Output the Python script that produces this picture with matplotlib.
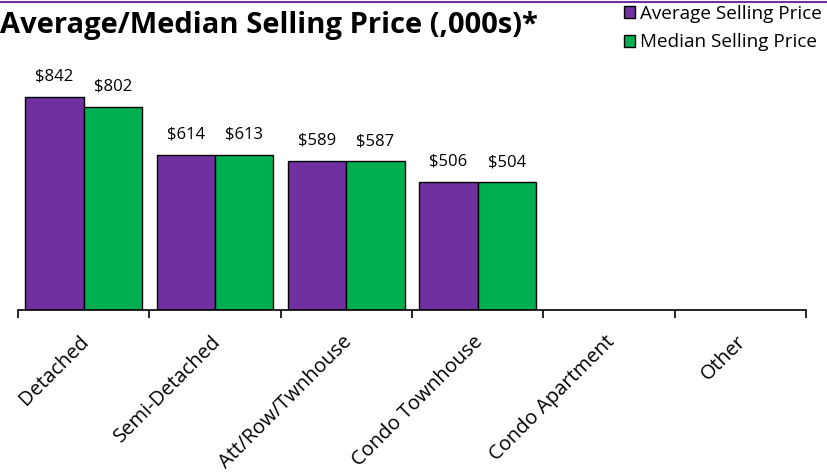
import numpy as np
import matplotlib.pyplot as plt
from matplotlib.lines import Line2D
from matplotlib.patches import Patch

plt.rcParams['font.family'] = ['Open Sans', 'DejaVu Sans']

categories = ['Detached', 'Semi-Detached', 'Att/Row/Twnhouse',
              'Condo Townhouse', 'Condo Apartment', 'Other']
avg_price = [842, 614, 589, 506, np.nan, np.nan]
med_price = [802, 613, 587, 504, np.nan, np.nan]
series_names = ['Average Selling Price', 'Median Selling Price']
purple = '#7030A0'
green = '#00B050'

fig = plt.figure(figsize=(8.27, 4.76), dpi=100)
ax = fig.add_axes([18/827, 1 - 310/476, 788/827, 260/476])

x = np.arange(len(categories))
w = 0.445
b1 = ax.bar(x - w/2, avg_price, w, color=purple, edgecolor='black', lw=1)
b2 = ax.bar(x + w/2, med_price, w, color=green, edgecolor='black', lw=1)

# value labels above bars
for bars, vals in [(b1, avg_price), (b2, med_price)]:
    for r, v in zip(bars, vals):
        if np.isnan(v):
            continue
        ax.text(r.get_x() + r.get_width()/2, v + 80, f'${v:.0f}',
                ha='center', va='center', fontsize=12)

ax.set_xlim(-0.5, len(categories) - 0.5)
ax.set_ylim(0, 1027)
ax.set_yticks([])
for s in ['top', 'right', 'left']:
    ax.spines[s].set_visible(False)
ax.spines['bottom'].set_linewidth(1.2)

ax.set_xticks(np.arange(len(categories) + 1) - 0.5)
ax.set_xticklabels([])
ax.tick_params(axis='x', length=6, width=1.2, direction='out')
for i, c in enumerate(categories):
    ax.text(i + 0.02, -0.11, c, transform=ax.get_xaxis_transform(),
            rotation=45, rotation_mode='anchor', ha='right', va='center',
            fontsize=14.5)

fig.text(0.0, 1 - 25/476, 'Average/Median Selling Price (,000s)*',
         fontsize=21, fontweight='bold', va='center', ha='left')

handles = [Patch(facecolor=purple, edgecolor='black'),
           Patch(facecolor=green, edgecolor='black')]
fig.legend(handles, series_names, loc='upper right',
           bbox_to_anchor=(1 - 5/827, 1 - 5/476), frameon=False, fontsize=13.6,
           handlelength=0.62, handleheight=0.62, handletextpad=0.25,
           labelspacing=0.55, borderaxespad=0.0, borderpad=0.0)

fig.add_artist(Line2D([0, 1], [1 - 2/476, 1 - 2/476], color=purple, lw=1.5,
                      transform=fig.transFigure))

fig.savefig('out.png', dpi=100)
